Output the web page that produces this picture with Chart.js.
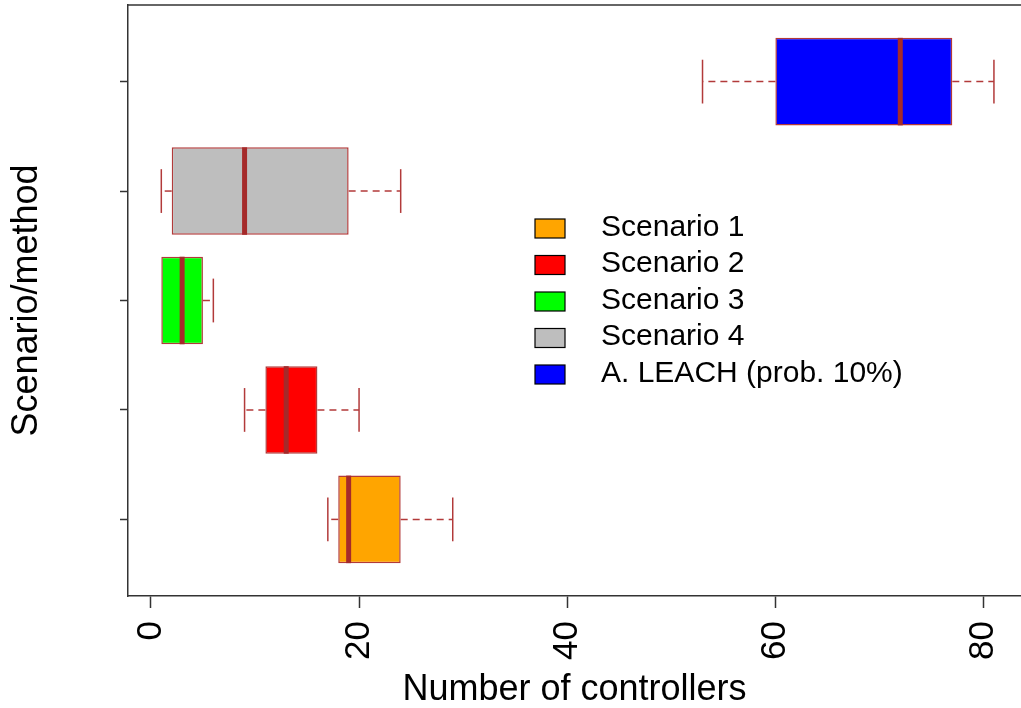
<!DOCTYPE html>
<html>
<head>
<meta charset="utf-8">
<title>Number of controllers</title>
<script src="https://cdn.jsdelivr.net/npm/chart.js@4.4.0/dist/chart.umd.min.js"></script>
<style>
    html, body { margin: 0; padding: 0; background: #fff; }
    canvas { display: block; }
</style>
</head>
<body>
<canvas id="boxChart" width="1021" height="708"></canvas>
<script>
// one row per scenario, bottom to top
let categories = ['Scenario 1', 'Scenario 2', 'Scenario 3', 'Scenario 4', 'A. LEACH (prob. 10%)'];
let positions = [1, 2, 3, 4, 5];
let lowWhisker = [17, 9, 1, 1, 53];
let lowerQuartile = [18, 11, 1, 2, 60];
let medians = [19, 13, 3, 9, 72];
let upperQuartile = [24, 16, 5, 19, 77];
let highWhisker = [29, 20, 6, 24, 81];
let boxColors = ['#FFA500', '#FF0000', '#00FF00', '#BEBEBE', '#0000FF'];
let xTicks = [0, 20, 40, 60, 80];

let edgeColor = '#B23A3A';
let medianColor = '#A52A2A';
let axisColor = '#333333';
let fontName = '"Liberation Sans", Arial, sans-serif';

window.onload = function () {
    boxChartDraw();
}

let line = function (ctx, x1, y1, x2, y2) {
    ctx.beginPath();
    ctx.moveTo(x1, y1);
    ctx.lineTo(x2, y2);
    ctx.stroke();
};

let boxPlugin = {
    id: 'boxParts',
    beforeDatasetsDraw(chart) {
        let ctx = chart.ctx, xs = chart.scales.x, ys = chart.scales.y;
        ctx.save();
        ctx.strokeStyle = edgeColor;
        ctx.lineWidth = 1.5;
        positions.forEach(function (p, i) {
            let yc = ys.getPixelForValue(p);
            let capTop = ys.getPixelForValue(p + 0.2);
            let capBot = ys.getPixelForValue(p - 0.2);
            let lo = xs.getPixelForValue(lowWhisker[i]);
            let q1 = xs.getPixelForValue(lowerQuartile[i]);
            let q3 = xs.getPixelForValue(upperQuartile[i]);
            let hi = xs.getPixelForValue(highWhisker[i]);
            ctx.setLineDash([7, 5]);
            if (lo < q1) line(ctx, q1, yc, lo, yc);
            if (hi > q3) line(ctx, q3, yc, hi, yc);
            ctx.setLineDash([]);
            if (lo < q1) line(ctx, lo, capTop, lo, capBot);
            if (hi > q3) line(ctx, hi, capTop, hi, capBot);
        });
        ctx.restore();
    },
    afterDatasetsDraw(chart) {
        let ctx = chart.ctx, xs = chart.scales.x, ys = chart.scales.y;
        let area = chart.chartArea;
        ctx.save();
        // medians
        ctx.strokeStyle = medianColor;
        ctx.lineWidth = 5;
        positions.forEach(function (p, i) {
            let m = xs.getPixelForValue(medians[i]);
            line(ctx, m, ys.getPixelForValue(p + 0.4), m, ys.getPixelForValue(p - 0.4));
        });
        // top edge of the frame
        ctx.strokeStyle = axisColor;
        ctx.lineWidth = 1.5;
        line(ctx, area.left - 0.75, area.top, area.right, area.top);
        // legend
        ctx.font = '30px ' + fontName;
        ctx.textBaseline = 'middle';
        ctx.textAlign = 'left';
        ctx.lineWidth = 1.2;
        categories.forEach(function (c, i) {
            let cy = 228.5 + i * 36.5;
            ctx.fillStyle = boxColors[i];
            ctx.fillRect(535, cy - 9.5, 30, 19);
            ctx.strokeStyle = '#000';
            ctx.strokeRect(535, cy - 9.5, 30, 19);
            ctx.fillStyle = '#000';
            ctx.fillText(c, 601, cy - 1);
        });
        ctx.restore();
    }
};

let boxChartDraw = function () {
    let painter = document.getElementById('boxChart').getContext('2d');

    let boxData = {
        datasets: [{
            data: positions.map(function (p, i) {
                return { y: p, x: [lowerQuartile[i], upperQuartile[i]] };
            }),
            backgroundColor: boxColors,
            borderColor: edgeColor,
            borderWidth: 1.5,
            borderSkipped: false,
            categoryPercentage: 1,
            barPercentage: 0.8
        }]
    };

    window.boxChart = new Chart(painter, {
        type: 'bar',
        data: boxData,
        plugins: [boxPlugin],
        options: {
            responsive: false,
            animation: false,
            indexAxis: 'y',
            layout: { padding: { top: 5, left: 0, right: 0, bottom: 0 } },
            scales: {
                x: {
                    type: 'linear',
                    min: -2.2,
                    max: 83.6,
                    afterBuildTicks: function (s) {
                        s.ticks = xTicks.map(function (v) { return { value: v }; });
                    },
                    afterFit: function (s) {
                        s.height = 112;
                        s.paddingLeft = 0;
                        s.paddingRight = 0;
                    },
                    grid: { display: true, drawOnChartArea: false, drawTicks: true, tickLength: 12, tickColor: axisColor, tickWidth: 1.5 },
                    border: { display: true, color: axisColor, width: 1.5 },
                    ticks: {
                        minRotation: 90,
                        maxRotation: 90,
                        padding: 13,
                        color: '#000',
                        font: { family: fontName, size: 35 }
                    },
                    title: {
                        display: true,
                        text: 'Number of controllers',
                        color: '#000',
                        font: { family: fontName, size: 36, lineHeight: 1 },
                        padding: { top: 0.5, bottom: 0 }
                    }
                },
                y: {
                    type: 'linear',
                    min: 0.3,
                    max: 5.7,
                    offset: false,
                    afterBuildTicks: function (s) {
                        s.ticks = positions.map(function (v) { return { value: v }; });
                    },
                    afterFit: function (s) {
                        s.width = 128;
                        s.paddingTop = 0;
                        s.paddingBottom = 0;
                    },
                    grid: { display: true, offset: false, drawOnChartArea: false, drawTicks: true, tickLength: 8, tickColor: axisColor, tickWidth: 1.5 },
                    border: { display: true, color: axisColor, width: 1.5 },
                    ticks: { display: false },
                    title: {
                        display: true,
                        text: 'Scenario/method',
                        color: '#000',
                        font: { family: fontName, size: 36, lineHeight: 1 },
                        padding: { top: 9, bottom: 0 }
                    }
                }
            },
            plugins: {
                legend: { display: false },
                tooltip: { enabled: false }
            }
        }
    });
};
</script>
</body>
</html>
